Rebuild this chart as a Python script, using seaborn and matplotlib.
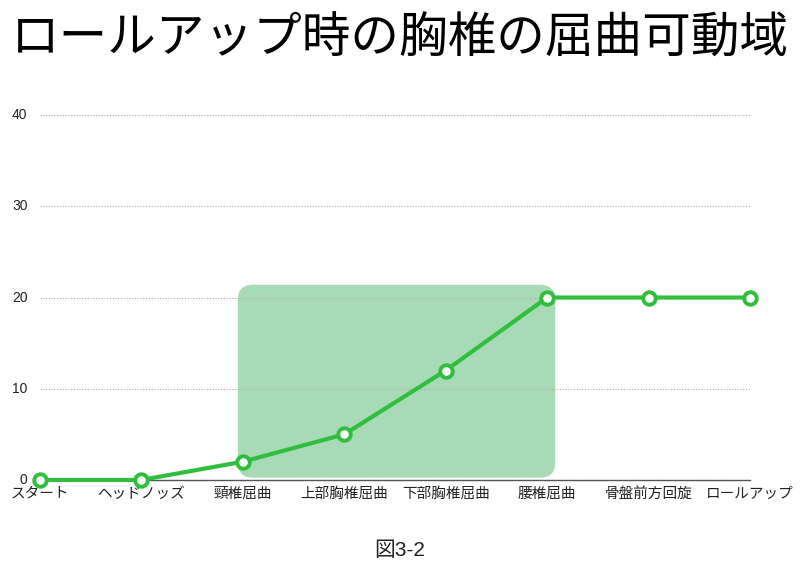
import matplotlib
matplotlib.use("Agg")
import matplotlib.pyplot as plt
import seaborn as sns
import pandas as pd
from matplotlib.patches import FancyBboxPatch

# --- DATA ---
stages = ["スタート", "ヘッドノッズ", "頸椎屈曲", "上部胸椎屈曲",
          "下部胸椎屈曲", "腰椎屈曲", "骨盤前方回旋", "ロールアップ"]
flexion = [0, 0, 2, 5, 12, 20, 20, 20]
y_ticks = [0, 10, 20, 30, 40]
highlight_from = "頸椎屈曲"
highlight_to = "腰椎屈曲"

title = "ロールアップ時の胸椎の屈曲可動域"
caption = "図3-2"

sns.set_theme(style="white")
plt.rcParams['font.family'] = ['Noto Sans CJK JP', 'DejaVu Sans']
latin = ['Liberation Sans', 'Noto Sans CJK JP']

df = pd.DataFrame({"stage": stages, "x": range(len(stages)), "value": flexion})

fig = plt.figure(figsize=(8, 5.7), dpi=100)
ax = fig.add_axes([0.05, 0.158, 0.8875, 0.64])

green = "#30bf3c"
sns.lineplot(data=df, x="x", y="value", ax=ax, color=green, linewidth=3.0,
             marker="o", markersize=9, markerfacecolor="white",
             markeredgecolor=green, markeredgewidth=2.8, clip_on=False, zorder=5)

ax.set_xlim(0, len(stages) - 1)
ax.set_ylim(y_ticks[0], y_ticks[-1])

# highlighted region (cervical -> lumbar flexion)
i0, i1 = stages.index(highlight_from), stages.index(highlight_to)
x0, x1 = i0 - 0.05, i1 + 0.08
y0, y1 = 0.25, max(flexion[i0:i1 + 1]) + 1.4
ax_w = 0.8875 * 800 / (len(stages) - 1)       # px per x unit
ax_h = 0.64 * 570 / (y_ticks[-1] - y_ticks[0])  # px per y unit
rect = FancyBboxPatch((x0, y0), x1 - x0, y1 - y0,
                      boxstyle="round,pad=0,rounding_size=0.15",
                      mutation_aspect=ax_w / ax_h,
                      facecolor="#a9dab8", edgecolor="none", zorder=0.3)
ax.add_patch(rect)

ax.set_yticks(y_ticks)
ax.set_yticklabels([str(t) for t in y_ticks], fontsize=10, family=latin, color="#222222")
ax.set_xticks(range(len(stages)))
ax.set_xticklabels(stages, fontsize=10.5, color="#222222")
ax.tick_params(axis="y", length=0, pad=9)
ax.tick_params(axis="x", length=0, pad=5)
for lbl in ax.get_yticklabels():
    lbl.set_verticalalignment("center")

ax.yaxis.grid(True, linestyle=(0, (1, 1.5)), color="#aaaaaa", linewidth=0.8)
ax.xaxis.grid(False)
ax.set_axisbelow(True)
for s in ["top", "right", "left"]:
    ax.spines[s].set_visible(False)
ax.spines["bottom"].set_color("#555555")
ax.spines["bottom"].set_linewidth(1)
ax.set_xlabel("")
ax.set_ylabel("")

fig.text(0.5, 0.932, title, ha="center", va="center", fontsize=35, color="black")
fig.text(0.5, 0.035, caption, ha="center", va="center", fontsize=15,
         family=latin, color="#222222")

fig.savefig("out.png", dpi=100)
